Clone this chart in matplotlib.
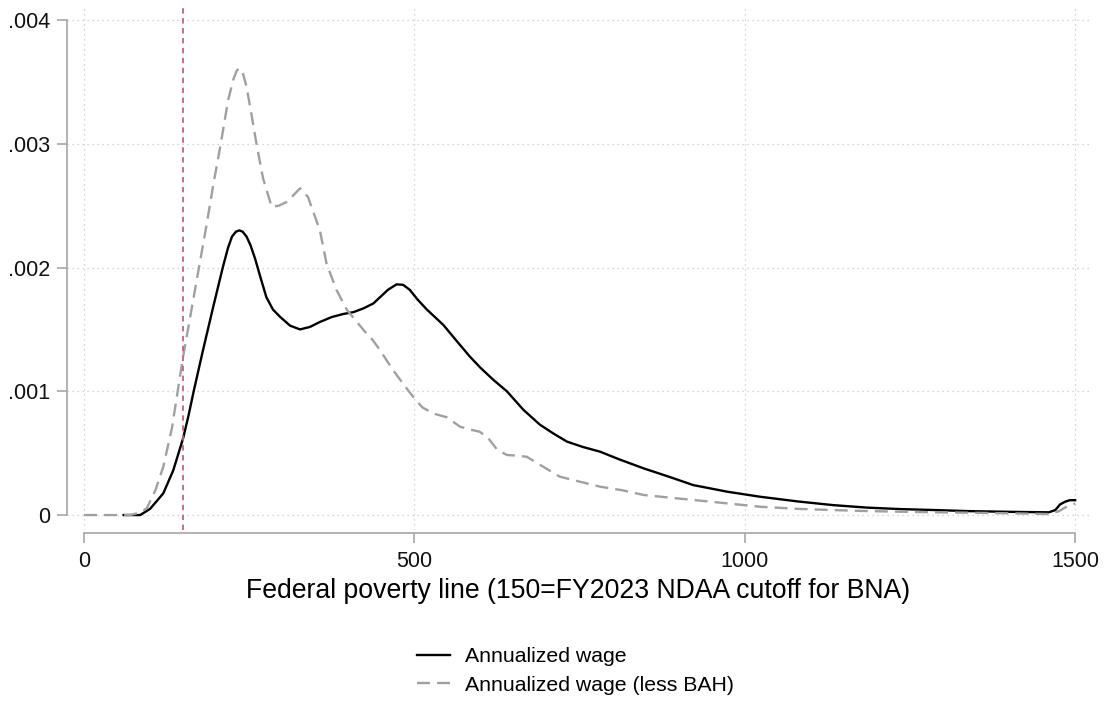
import matplotlib.pyplot as plt

plt.rcParams["font.family"] = ["Liberation Sans", "DejaVu Sans"]

# kernel density, annualized wage
wage_x = [60, 85, 100, 120, 135, 150, 158, 166, 180, 195, 210, 218, 224, 230,
          235, 240, 246, 252, 259, 266, 276, 286, 297, 312, 327, 342, 357, 375,
          392, 408, 423, 438, 448, 460, 473, 483, 493, 505, 519, 544, 565, 584,
          600, 620, 640, 665, 690, 710, 731, 755, 781, 810, 847, 885, 922, 973,
          1023, 1080, 1134, 1185, 1235, 1290, 1336, 1400, 1460, 1470, 1477, 1485,
          1492, 1500]
wage_y = [0.0, 0.0, 0.00005, 0.000175, 0.00036, 0.00062, 0.0008, 0.001,
          0.00133, 0.00167, 0.002, 0.00216, 0.00225, 0.00229, 0.0023, 0.00229,
          0.00225, 0.00218, 0.00207, 0.00194, 0.00176, 0.00166, 0.0016, 0.00153,
          0.0015, 0.00152, 0.00156, 0.0016, 0.001624, 0.00164, 0.00167, 0.00171,
          0.00176, 0.00182, 0.001864, 0.00186, 0.00182, 0.00174, 0.00166,
          0.001535, 0.0014, 0.00128, 0.00119, 0.00109, 0.001, 0.00085, 0.00073,
          0.00066, 0.000593, 0.00055, 0.000512, 0.00045, 0.000377, 0.00031,
          0.000242, 0.000189, 0.000148, 0.00011, 0.00008, 0.00006, 0.000048,
          0.00004, 0.000032, 0.000026, 0.000022, 0.00004, 0.000085, 0.000108,
          0.00012, 0.00012]

# kernel density, annualized wage less BAH
bah_x = [0, 70, 85, 95, 108, 120, 133, 150, 160, 170, 186, 196, 207, 218, 226,
         231, 235, 240, 246, 254, 261, 271, 284, 295, 307, 318, 327, 339, 357,
         367, 382, 398, 410, 423, 436, 448, 458, 468, 483, 498, 512, 529, 549,
         569, 585, 599, 612, 625, 640, 655, 670, 695, 720, 750, 781, 815, 847,
         897, 948, 1023, 1080, 1134, 1185, 1235, 1290, 1336, 1400, 1460, 1475,
         1487, 1500]
bah_y = [0.0, 0.0, 0.00002, 0.000054, 0.0002, 0.00039, 0.0007, 0.00128,
         0.00158, 0.00188, 0.00236, 0.00268, 0.003, 0.00335, 0.00352, 0.00359,
         0.00361, 0.00358, 0.00346, 0.00322, 0.003, 0.00272, 0.00249, 0.0025,
         0.00253, 0.00259, 0.00264, 0.00257, 0.0023, 0.002034, 0.00182,
         0.001657, 0.00158, 0.001495, 0.00142, 0.001333, 0.00125, 0.00117,
         0.00106, 0.000956, 0.00087, 0.00082, 0.00079, 0.000714, 0.00069,
         0.000673, 0.00062, 0.00053, 0.000485, 0.00048, 0.000471, 0.00039,
         0.00031, 0.00027, 0.000229, 0.0002, 0.000162, 0.000135, 0.000108,
         0.000067, 0.00005, 0.00004, 0.000032, 0.000027, 0.000022, 0.000019,
         0.000014, 0.000008, 0.00003, 0.000067, 0.000094]

cutoff = 150
x_ticks = [0, 500, 1000, 1500]
y_ticks = [0, 0.001, 0.002, 0.003, 0.004]
y_labels = ["0", ".001", ".002", ".003", ".004"]

axis_gray = "#a6a6a6"

fig = plt.figure(figsize=(11.06, 7.02), dpi=100)
ax = fig.add_axes([0.0606, 0.245, 0.925, 0.7436])

ax.plot(wage_x, wage_y, color="black", lw=1.7, label="Annualized wage")
ax.plot(bah_x, bah_y, color="#a0a0a0", lw=1.7, linestyle=(0, (5.5, 3)),
        label="Annualized wage (less BAH)")
ax.axvline(cutoff, color="#c0608f", lw=1.3, linestyle=(0, (3, 2.5)))

ax.set_xlim(-25.7, 1522.6)
ax.set_ylim(-0.000121, 0.004097)
ax.set_xticks(x_ticks)
ax.set_yticks(y_ticks)
ax.set_yticklabels(y_labels)

ax.grid(True, color="#c8c8c8", linestyle=(0, (1, 3)), lw=0.9)

# stata-like detached axes
for side in ["top", "right"]:
    ax.spines[side].set_visible(False)
ax.spines["left"].set_bounds(0, 0.004)
ax.spines["bottom"].set_bounds(0, 1500)
ax.spines["bottom"].set_position(("outward", 2.2))
for side in ["left", "bottom"]:
    ax.spines[side].set_color(axis_gray)
    ax.spines[side].set_linewidth(1.2)
ax.tick_params(axis="both", color=axis_gray, width=1.2, length=7,
               labelsize=15.5, labelcolor="#111111")
ax.tick_params(axis="y", pad=5)
ax.tick_params(axis="x", pad=6)

ax.set_xlabel("Federal poverty line (150=FY2023 NDAA cutoff for BNA)",
              fontsize=19.2, labelpad=4)

ax.legend(loc="center left", bbox_to_anchor=(398 / 1106, 1 - 671 / 702),
          bbox_transform=fig.transFigure, frameon=False, fontsize=15.3,
          handlelength=1.55, handletextpad=0.7, labelspacing=0.45)

fig.savefig("out.png", dpi=100)
